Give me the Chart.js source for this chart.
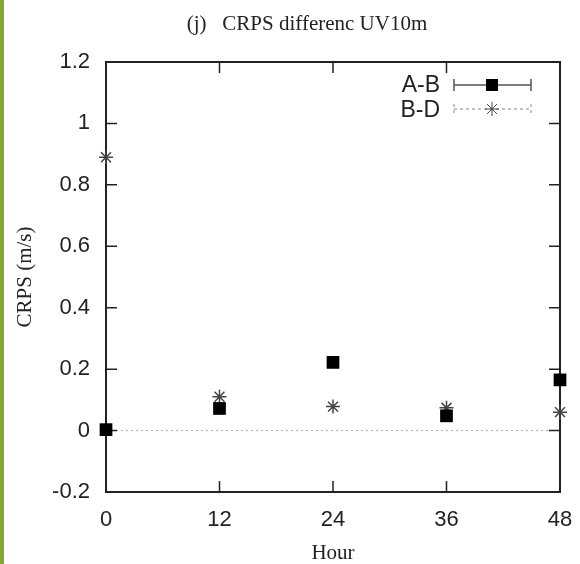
<!DOCTYPE html>
<html>
<head>
<meta charset="utf-8">
<script src="https://cdn.jsdelivr.net/npm/chart.js@4"></script>
<style>
html, body { margin: 0; padding: 0; background: #fff; }
#wrap { position: relative; width: 580px; height: 564px; }
#strip { position: absolute; left: 0; top: 0; width: 4px; height: 564px; background: #87a53a; }
</style>
</head>
<body>
<div id="wrap">
<div id="strip"></div>
<canvas id="chart" width="580" height="564"></canvas>
</div>
<script>
// forecast hours
var hours = [0, 12, 24, 36, 48];
// CRPS difference A-B
var diffAB = [0.003, 0.072, 0.222, 0.048, 0.165];
// CRPS difference B-D
var diffBD = [0.89, 0.11, 0.078, 0.074, 0.06];
var yTicks = [-0.2, 0, 0.2, 0.4, 0.6, 0.8, 1, 1.2];
var xTicks = [0, 12, 24, 36, 48];

var titleText = "(j)   CRPS differenc UV10m";
var sansFont = "'Liberation Sans', Arial, sans-serif";
var serifFont = "'Liberation Serif', 'Times New Roman', serif";

function toPoints(vals) {
	var pts = [];
	for (var i = 0; i < hours.length; i++) {
		pts.push({x: hours[i], y: vals[i]});
	}
	return pts;
}

// frame, inward ticks, titles and legend drawn on top
var framePlugin = {
	id: 'frame',
	beforeDatasetsDraw: function(chart) {
		var ctx = chart.ctx;
		var xs = chart.scales.x, ys = chart.scales.y;
		var a = chart.chartArea;
		ctx.save();
		// zero line
		ctx.strokeStyle = '#aaa';
		ctx.lineWidth = 1;
		ctx.setLineDash([2, 3]);
		ctx.beginPath();
		ctx.moveTo(a.left, ys.getPixelForValue(0));
		ctx.lineTo(a.right, ys.getPixelForValue(0));
		ctx.stroke();
		ctx.setLineDash([]);
		// inward ticks
		ctx.strokeStyle = '#222';
		ctx.lineWidth = 1.5;
		for (var i = 0; i < yTicks.length; i++) {
			var py = ys.getPixelForValue(yTicks[i]);
			ctx.beginPath();
			ctx.moveTo(a.left, py); ctx.lineTo(a.left + 11, py);
			ctx.moveTo(a.right, py); ctx.lineTo(a.right - 11, py);
			ctx.stroke();
		}
		for (var j = 0; j < xTicks.length; j++) {
			var px = xs.getPixelForValue(xTicks[j]);
			ctx.beginPath();
			ctx.moveTo(px, a.bottom); ctx.lineTo(px, a.bottom - 11);
			ctx.moveTo(px, a.top); ctx.lineTo(px, a.top + 11);
			ctx.stroke();
		}
		// frame
		ctx.lineWidth = 2;
		ctx.strokeRect(a.left, a.top, a.right - a.left, a.bottom - a.top);
		ctx.restore();
	},
	afterDraw: function(chart) {
		var ctx = chart.ctx;
		var a = chart.chartArea;
		ctx.save();
		ctx.fillStyle = '#222';
		ctx.textAlign = 'center';
		ctx.textBaseline = 'middle';
		ctx.font = '21px ' + serifFont;
		ctx.fillText(titleText, 307, 24);
		ctx.fillText('Hour', (a.left + a.right) / 2, 553);
		ctx.save();
		ctx.translate(25, (a.top + a.bottom) / 2);
		ctx.rotate(-Math.PI / 2);
		ctx.fillText('CRPS (m/s)', 0, 0);
		ctx.restore();

		// legend
		ctx.font = '23px ' + sansFont;
		ctx.textAlign = 'right';
		ctx.fillText('A-B', 440, 86);
		ctx.fillText('B-D', 440, 111);
		var x1 = 454, x2 = 531, xm = 492;
		ctx.strokeStyle = '#555';
		ctx.lineWidth = 1.5;
		ctx.beginPath();
		ctx.moveTo(x1, 85); ctx.lineTo(x2, 85);
		ctx.moveTo(x1, 79); ctx.lineTo(x1, 91);
		ctx.moveTo(x2, 79); ctx.lineTo(x2, 91);
		ctx.stroke();
		ctx.fillStyle = '#000';
		ctx.fillRect(xm - 6, 79, 12, 12);
		ctx.strokeStyle = '#888';
		ctx.lineWidth = 1;
		ctx.setLineDash([3, 3]);
		ctx.beginPath();
		ctx.moveTo(x1, 109); ctx.lineTo(x2, 109);
		ctx.moveTo(x1, 104); ctx.lineTo(x1, 114);
		ctx.moveTo(x2, 104); ctx.lineTo(x2, 114);
		ctx.stroke();
		ctx.setLineDash([]);
		ctx.strokeStyle = '#444';
		Chart.helpers.drawPoint(ctx, {pointStyle: 'star', radius: 7, borderWidth: 1.5}, xm, 109);
		ctx.restore();
	}
};

var config = {
	type: 'scatter',
	data: {
		datasets: [{
			label: 'A-B',
			data: toPoints(diffAB),
			pointStyle: 'rect',
			pointRadius: 9,
			pointHoverRadius: 9,
			backgroundColor: '#000',
			borderColor: '#000',
			borderWidth: 0
		},
		{
			label: 'B-D',
			data: toPoints(diffBD),
			pointStyle: 'star',
			pointRadius: 7,
			pointHoverRadius: 7,
			backgroundColor: '#444',
			borderColor: '#444',
			borderWidth: 1.5
		}]
	},
	options: {
		responsive: false,
		animation: false,
		clip: false,
		layout: { padding: { left: 0, right: 20, top: 62, bottom: 0 } },
		plugins: {
			legend: { display: false },
			title: { display: false },
			tooltip: { enabled: false }
		},
		scales: {
			x: {
				type: 'linear',
				min: 0, max: 48,
				afterBuildTicks: function(s) { s.ticks = xTicks.map(function(v) { return {value: v}; }); },
				afterFit: function(s) { s.height = 72; s.paddingLeft = 0; s.paddingRight = 0; },
				grid: { display: false, drawTicks: false },
				border: { display: false },
				ticks: { color: '#222', font: { size: 22, family: sansFont }, padding: 15, maxRotation: 0 }
			},
			y: {
				min: -0.2, max: 1.2,
				afterBuildTicks: function(s) { s.ticks = yTicks.map(function(v) { return {value: v}; }); },
				afterFit: function(s) { s.width = 106; s.paddingTop = 0; s.paddingBottom = 0; },
				grid: { display: false, drawTicks: false },
				border: { display: false },
				ticks: { color: '#222', font: { size: 22, family: sansFont }, padding: 16,
					callback: function(v) { return String(Math.round(v * 10) / 10); } }
			}
		}
	},
	plugins: [framePlugin]
};

var ctx = document.getElementById('chart').getContext('2d');
window.myChart = new Chart(ctx, config);
</script>
</body>
</html>
